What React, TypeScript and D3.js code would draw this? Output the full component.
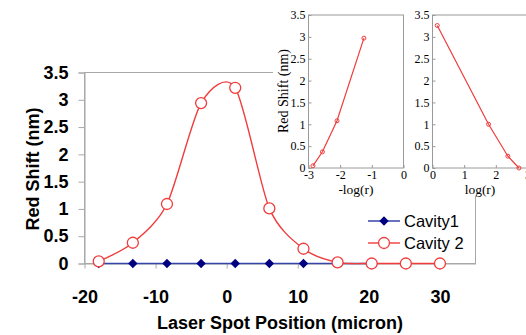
import React, { useEffect, useRef } from 'react';
import * as d3 from 'd3';

// main chart data
const positions = [-18, -13.2, -8.4, -3.6, 1.2, 6.0, 10.8, 15.6, 20.4, 25.2, 30];
const cavity1 = [0, 0, 0, 0, 0, 0, 0, 0, 0];
const cavity2 = [0.04, 0.38, 1.09, 2.94, 3.22, 1.01, 0.27, 0.02, 0, 0, 0];
const yTicks = [0, 0.5, 1, 1.5, 2, 2.5, 3, 3.5];
const xTicks = [-20, -10, 0, 10, 20, 30];

// insets
const negLogR = [-2.86, -2.56, -2.1, -1.25];
const shiftLeft = [0.05, 0.37, 1.08, 2.97];
const logR = [0.15, 1.77, 2.38, 2.73];
const shiftRight = [3.26, 1.0, 0.27, 0.0];
const insetYTicks = [0, 0.5, 1, 1.5, 2, 2.5, 3, 3.5];
const insetLeftX = [-3, -2, -1, 0];
const insetRightX = [0, 1, 2, 3];

const SANS = "'Liberation Sans', Arial, sans-serif";
const SERIF = "'Liberation Serif', 'Times New Roman', serif";
const RED = '#f03c3c';
const hyphen = (d: any) => (d < 0 ? '-' + Math.abs(d) : '' + d);

function App() {
  const ref = useRef<SVGSVGElement>(null);

  useEffect(() => {
    const svg = d3.select(ref.current);
    svg.selectAll('*').remove();

    var x = d3.scaleLinear().domain([-20, 35]).range([84.5, 475.5]);
    var y = d3.scaleLinear().domain([0, 3.5]).range([263.5, 72.5]);

    // plot area border
    svg.append('rect')
      .attr('x', x(-20)).attr('y', y(3.5))
      .attr('width', x(35) - x(-20)).attr('height', y(0) - y(3.5))
      .attr('fill', 'none').attr('stroke', '#a8a8a8').attr('stroke-width', 1);

    // y axis
    const ya = svg.append('g')
      .attr('transform', 'translate(' + x(-20) + ',0)')
      .call(d3.axisLeft(y).tickValues(yTicks).tickSize(6).tickPadding(10).tickFormat(d3.format('')));
    ya.select('.domain').attr('stroke', '#a8a8a8');
    ya.selectAll('line').attr('stroke', '#a8a8a8');
    ya.selectAll('text').attr('font-family', SANS).attr('font-size', 18).attr('font-weight', 'bold').attr('fill', '#000');

    // x axis
    const xa = svg.append('g')
      .attr('transform', 'translate(0,' + y(0) + ')')
      .call(d3.axisBottom(x).tickValues(xTicks).tickSize(5).tickPadding(22).tickSizeOuter(0).tickFormat(hyphen));
    xa.select('.domain').attr('stroke', '#a8a8a8');
    xa.selectAll('line').attr('stroke', '#a8a8a8');
    xa.selectAll('text').attr('font-family', SANS).attr('font-size', 18).attr('font-weight', 'bold').attr('fill', '#000');

    // axis titles
    svg.append('text')
      .attr('x', 280).attr('y', 329)
      .attr('text-anchor', 'middle')
      .attr('font-family', SANS).attr('font-size', 18).attr('font-weight', 'bold')
      .text('Laser Spot Position (micron)');
    svg.append('text')
      .attr('transform', 'translate(39,169) rotate(-90)')
      .attr('text-anchor', 'middle')
      .attr('font-family', SANS).attr('font-size', 18).attr('font-weight', 'bold')
      .text('Red Shift (nm)');

    // Cavity1
    const c1 = cavity1.map((v, i) => ({ x: positions[i], y: v }));
    svg.append('path')
      .datum(c1)
      .attr('fill', 'none').attr('stroke', '#3545a8').attr('stroke-width', 1.6)
      .attr('d', d3.line<any>().x(d => x(d.x)).y(d => y(d.y)));
    const diamond = d3.symbol().type(d3.symbolSquare).size(44);
    svg.selectAll('.dia').data(c1).enter().append('path')
      .attr('transform', d => 'translate(' + x(d.x) + ',' + y(d.y) + ') rotate(45)')
      .attr('d', diamond()).attr('fill', '#000080');

    // Cavity 2 (smoothed line)
    const c2 = cavity2.map((v, i) => ({ x: positions[i], y: v }));
    svg.append('path')
      .datum(c2)
      .attr('fill', 'none').attr('stroke', RED).attr('stroke-width', 1.4)
      .attr('d', d3.line<any>().x(d => x(d.x)).y(d => y(d.y)).curve(d3.curveCardinal.tension(0.2)));
    svg.selectAll('.circ').data(c2).enter().append('circle')
      .attr('cx', d => x(d.x)).attr('cy', d => y(d.y)).attr('r', 5.5)
      .attr('fill', '#fff').attr('stroke', RED).attr('stroke-width', 1.3);

    // legend
    const lg = svg.append('g');
    lg.append('line').attr('x1', 368).attr('x2', 400).attr('y1', 221).attr('y2', 221)
      .attr('stroke', '#3545a8').attr('stroke-width', 1.5);
    lg.append('path').attr('transform', 'translate(384,221) rotate(45)').attr('d', diamond()).attr('fill', '#000080');
    lg.append('text').attr('x', 404).attr('y', 227).attr('font-family', SANS).attr('font-size', 16.5).text('Cavity1');
    lg.append('line').attr('x1', 368).attr('x2', 400).attr('y1', 243).attr('y2', 243)
      .attr('stroke', RED).attr('stroke-width', 1.4);
    lg.append('circle').attr('cx', 384).attr('cy', 243).attr('r', 5.5)
      .attr('fill', '#fff').attr('stroke', RED).attr('stroke-width', 1.3);
    lg.append('text').attr('x', 404).attr('y', 249).attr('font-family', SANS).attr('font-size', 16.5).text('Cavity 2');

    // inset background
    svg.append('rect').attr('x', 273).attr('y', 0).attr('width', 260).attr('height', 196).attr('fill', '#fff');

    function inset(left: number, xDomain: number[], xTickVals: number[], xs: number[], ys: number[], xlabel: string) {
      var ix = d3.scaleLinear().domain(xDomain).range([left, left + 95]);
      var iy = d3.scaleLinear().domain([0, 3.5]).range([168, 15]);
      const g = svg.append('g');
      g.append('rect').attr('x', left).attr('y', 15).attr('width', 95).attr('height', 153)
        .attr('fill', '#fff').attr('stroke', '#9a9a9a').attr('stroke-width', 1);
      const ay = g.append('g').attr('transform', 'translate(' + left + ',0)')
        .call(d3.axisLeft(iy).tickValues(insetYTicks).tickSize(-3).tickPadding(3).tickFormat(d3.format('')));
      ay.select('.domain').remove();
      ay.selectAll('line').attr('stroke', '#9a9a9a');
      ay.selectAll('text').attr('font-family', SERIF).attr('font-size', 12).attr('fill', '#000');
      const ax = g.append('g').attr('transform', 'translate(0,168)')
        .call(d3.axisBottom(ix).tickValues(xTickVals).tickSize(-3).tickPadding(2).tickFormat(hyphen));
      ax.select('.domain').remove();
      ax.selectAll('line').attr('stroke', '#9a9a9a');
      ax.selectAll('text').attr('font-family', SERIF).attr('font-size', 12).attr('fill', '#000');
      const pts = xs.map((v, i) => ({ x: v, y: ys[i] }));
      g.append('path').datum(pts)
        .attr('fill', 'none').attr('stroke', RED).attr('stroke-width', 1.2)
        .attr('d', d3.line<any>().x(d => ix(d.x)).y(d => iy(d.y)));
      g.selectAll('.pt').data(pts).enter().append('circle')
        .attr('cx', d => ix(d.x)).attr('cy', d => iy(d.y)).attr('r', 2)
        .attr('fill', 'none').attr('stroke', RED).attr('stroke-width', 1);
      g.append('text').attr('x', left + 47.5).attr('y', 194).attr('text-anchor', 'middle')
        .attr('font-family', SERIF).attr('font-size', 13.5).text(xlabel);
    }

    inset(308.5, [-3, 0], insetLeftX, negLogR, shiftLeft, '-log(r)');
    inset(432.5, [0, 3], insetRightX, logR, shiftRight, 'log(r)');

    svg.append('text')
      .attr('transform', 'translate(288,91) rotate(-90)')
      .attr('text-anchor', 'middle')
      .attr('font-family', SERIF).attr('font-size', 14)
      .text('Red Shift (nm)');
  }, []);

  return (
    <svg ref={ref} width={526} height={335}
      style={{ position: 'absolute', left: 0, top: 0, background: '#fff' }} />
  );
}

export default App;
